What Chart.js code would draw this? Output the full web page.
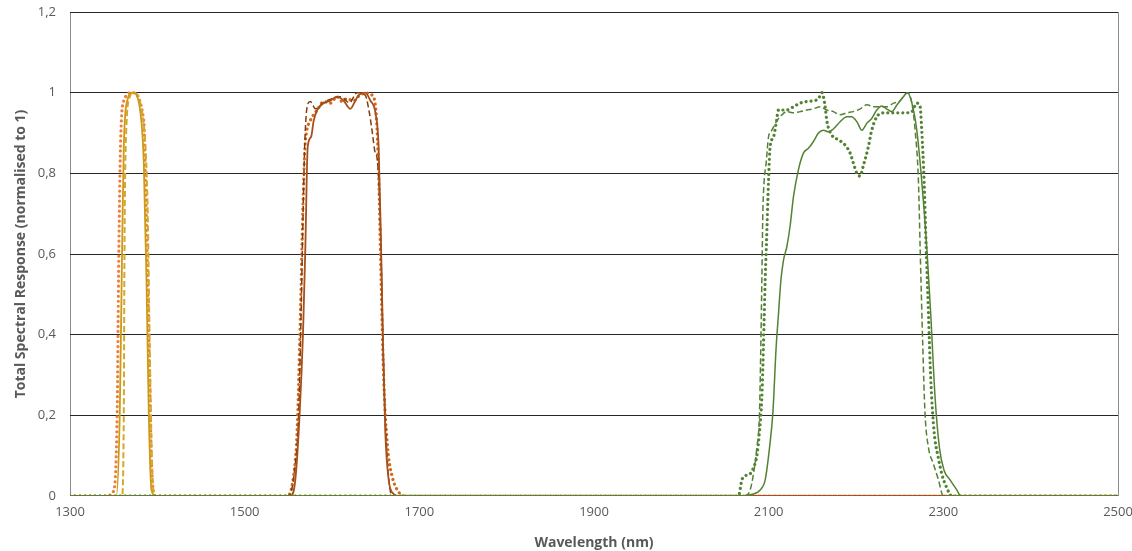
<!DOCTYPE html>
<html>
<head>
<meta charset="utf-8">
<script src="https://cdn.jsdelivr.net/npm/chart.js@4/dist/chart.umd.min.js"></script>
<style>
html,body{margin:0;padding:0;background:#fff}
#wrap{width:1132px;height:551px}
</style>
</head>
<body>
<div id="wrap"><canvas id="c" width="1132" height="551"></canvas></div>
<script>
// band 1 (~1370 nm)
const b1SolidX = [1300,1353,1357,1359.7,1361.6,1365.5,1372,1380.7,1384.5,1387.6,1390.2,1393.3,1398,2500]
const b1SolidY = [0,0,0.206,0.618,0.866,0.98,1,0.95,0.825,0.535,0.206,0.015,0,0]
const b1DashX = [1300,1359.5,1361.6,1362.4,1364.3,1368.5,1372,1384.5,1389,1391.3,1394,1396.6,2500]
const b1DashY = [0,0,0.206,0.618,0.9,0.99,1,0.92,0.7,0.37,0.08,0,0]
const b1DotX = [1300,1340,1349.4,1354,1355.9,1357.8,1361.6,1371,1384.5,1386.4,1389,1391.3,1393.3,1397.9,2500]
const b1DotY = [0,0,0.01,0.206,0.6,0.866,0.98,1,0.93,0.78,0.535,0.29,0.08,0,0]

// band 2 (~1610 nm)
const b2SolidX = [1300,1552.4,1558,1563,1566.9,1569.5,1572.2,1576,1579,1583,1590.5,1598,1605.8,1613.4,1621,1626.7,1630.5,1638,1644,1649.7,1653.4,1656.2,1658.5,1661,1664.9,1670.6,1676,2500]
const b2SolidY = [0,0,0.04,0.206,0.41,0.618,0.866,0.89,0.93,0.957,0.974,0.98,0.99,0.98,0.96,0.98,0.994,1,0.98,0.95,0.866,0.618,0.37,0.16,0.04,0.005,0,0]
const b2DashX = [1300,1550.4,1558,1561.9,1564.6,1566.9,1568.7,1571.5,1575.2,1581,1590,1600,1610,1620,1628.7,1638,1642,1645.8,1649.6,1651.5,1655,1658.5,1662.5,1669,2500]
const b2DashY = [0,0,0.08,0.206,0.45,0.7,0.866,0.965,0.978,0.96,0.975,0.985,0.99,0.975,1,0.994,0.96,0.907,0.85,0.84,0.7,0.37,0.12,0,0]
const b2DotX = [1300,1548.6,1556,1560,1563.8,1566.5,1568.7,1570.7,1575,1583,1590.5,1598,1605.8,1611.5,1617,1624.6,1632,1640,1645.8,1650.8,1653.4,1656.2,1659.2,1663.7,1668.7,1676.3,1682,2500]
const b2DotY = [0,0,0.05,0.16,0.45,0.7,0.85,0.9,0.93,0.957,0.978,0.974,0.99,0.978,0.985,0.98,0.994,0.999,0.994,0.94,0.8,0.535,0.29,0.12,0.05,0.01,0,0]

// band 3 (~2200 nm)
const b3SolidX = [1300,2067.4,2082.6,2090.3,2096,2101,2104.8,2108.6,2111.2,2114,2117,2120.8,2124.6,2128.4,2134,2139.8,2145.5,2151.3,2157,2162.7,2168.4,2174,2181.8,2189.5,2195,2201,2206.7,2212.4,2218,2223.8,2229.5,2235,2241,2246.7,2254.3,2258.9,2264,2269.6,2275.3,2281,2285.6,2290.5,2295.5,2300.8,2307.7,2315.4,2320,2500]
const b3SolidY = [0,0,0.005,0.015,0.04,0.12,0.206,0.37,0.45,0.535,0.585,0.618,0.67,0.742,0.808,0.85,0.862,0.879,0.9,0.907,0.903,0.91,0.928,0.94,0.94,0.928,0.907,0.924,0.936,0.957,0.967,0.96,0.953,0.969,0.99,1,0.974,0.907,0.78,0.618,0.45,0.246,0.12,0.064,0.04,0.015,0,0]
const b3DashX = [1300,2073,2078.8,2082.6,2086.5,2089.5,2091,2092.2,2093.3,2094.8,2097.1,2099.8,2103.6,2109.4,2115,2120.8,2128.4,2136,2143.7,2151.3,2159,2166.5,2174,2181.8,2189.5,2197,2205,2212.4,2220,2227.7,2235,2243,2250.5,2256.2,2259,2264,2267.7,2271.5,2273.4,2276.5,2279,2283,2288.6,2294.4,2300,2500]
const b3DashY = [0,0,0.015,0.055,0.12,0.206,0.37,0.535,0.7,0.78,0.825,0.89,0.907,0.93,0.945,0.953,0.95,0.953,0.957,0.96,0.965,0.957,0.953,0.945,0.95,0.953,0.96,0.97,0.965,0.965,0.965,0.974,0.98,0.996,1,0.974,0.907,0.78,0.618,0.37,0.206,0.12,0.08,0.04,0,0]
const b3DotX = [1300,2065.5,2069.3,2073.1,2078.8,2082.6,2086.5,2089.5,2092.2,2094,2096,2098,2099.8,2101.7,2105.5,2108.6,2111.2,2115,2120.8,2128.4,2136,2143.7,2151.3,2157,2161,2164.7,2166.6,2172.3,2180,2187.6,2193.3,2197,2201,2204.7,2208.5,2214.2,2218,2223.8,2231.4,2239,2246.7,2256.2,2264,2269.6,2273.4,2275.3,2278,2280.3,2283,2285.6,2289.4,2294.4,2298.2,2304,2309.8,2500]
const b3DotY = [0,0,0.04,0.05,0.055,0.07,0.1,0.16,0.245,0.37,0.535,0.66,0.78,0.866,0.89,0.924,0.957,0.957,0.957,0.965,0.974,0.978,0.98,0.985,1,0.965,0.93,0.895,0.883,0.87,0.85,0.825,0.8,0.793,0.82,0.866,0.907,0.94,0.95,0.95,0.95,0.95,0.953,0.974,0.965,0.907,0.78,0.618,0.45,0.29,0.16,0.093,0.055,0.02,0,0]

const yTicks = [0,0.2,0.4,0.6,0.8,1,1.2]
const xTicks = [1300,1500,1700,1900,2100,2300,2500]

function pts(xs, ys){
return xs.map((x,i)=>({x:x, y:ys[i]}))
}

function line(label, xs, ys, color, dash, width){
return {
label: label,
data: pts(xs, ys),
borderColor: color,
backgroundColor: color,
borderWidth: width,
borderDash: dash,
borderCapStyle: dash.length && dash[0] < 1 ? "round" : "butt",
showLine: true,
pointRadius: 0,
cubicInterpolationMode: "monotone",
fill: false
}
}

const SOLID = []
const DOT = [0.01,5]
const DASH = [6,3]

const ctx = document.getElementById("c").getContext("2d")

new Chart(ctx,{
type:"scatter",
data:{
datasets:[
line("b3 solid", b3SolidX, b3SolidY, "#548235", SOLID, 1.5),
line("b3 dash", b3DashX, b3DashY, "#548235", DASH, 1.5),
line("b3 dot", b3DotX, b3DotY, "#548235", DOT, 3.2),
line("b2 solid", b2SolidX, b2SolidY, "#A8501A", SOLID, 1.8),
line("b2 dash", b2DashX, b2DashY, "#843C0C", DASH, 1.5),
line("b2 dot", b2DotX, b2DotY, "#D2691E", DOT, 3.2),
line("b1 solid", b1SolidX, b1SolidY, "#CC9A16", SOLID, 1.8),
line("b1 dash", b1DashX, b1DashY, "#D4A82A", DASH, 2),
line("b1 dot", b1DotX, b1DotY, "#EF7E3A", DOT, 3.2)
]
},
options:{
responsive:false,
animation:false,
layout:{padding:{top:12,right:14,left:0,bottom:0}},
plugins:{legend:{display:false},tooltip:{enabled:false}},
scales:{
x:{
type:"linear",
min:1300,
max:2500,
afterBuildTicks:(s)=>{ s.ticks = xTicks.map(v=>({value:v})) },
ticks:{color:"#595959",font:{family:"Open Sans",size:13},padding:8,maxRotation:0,callback:(v)=>String(v)},
grid:{
color:(c)=> (c.tick && (c.tick.value===1300 || c.tick.value===2500)) ? "#8c8c8c" : "rgba(0,0,0,0)",
drawTicks:false
},
border:{display:false},
title:{display:true,text:"Wavelength (nm)",color:"#595959",font:{family:"Open Sans",size:14,weight:"bold"},padding:{top:4,bottom:0}},
afterFit:(s)=>{ s.height = 55; s.paddingLeft = 0; s.paddingRight = 0 }
},
y:{
min:0,
max:1.2,
afterBuildTicks:(s)=>{ s.ticks = yTicks.map(v=>({value:v})) },
ticks:{
color:"#595959",
font:{family:"Open Sans",size:13},
padding:14,
callback:(v)=> String(Math.round(v*10)/10).replace(".",",")
},
grid:{color:(c)=> c.tick && c.tick.value===0 ? "rgba(0,0,0,0)" : "#262626", lineWidth:1, drawTicks:false},
border:{display:false},
title:{display:true,text:"Total Spectral Response (normalised to 1)",color:"#595959",font:{family:"Open Sans",size:14,weight:"bold"},padding:{top:13,bottom:0}},
afterFit:(s)=>{ s.width = 70; s.paddingTop = 0; s.paddingBottom = 0 }
}
}
}
})
</script>
</body>
</html>
